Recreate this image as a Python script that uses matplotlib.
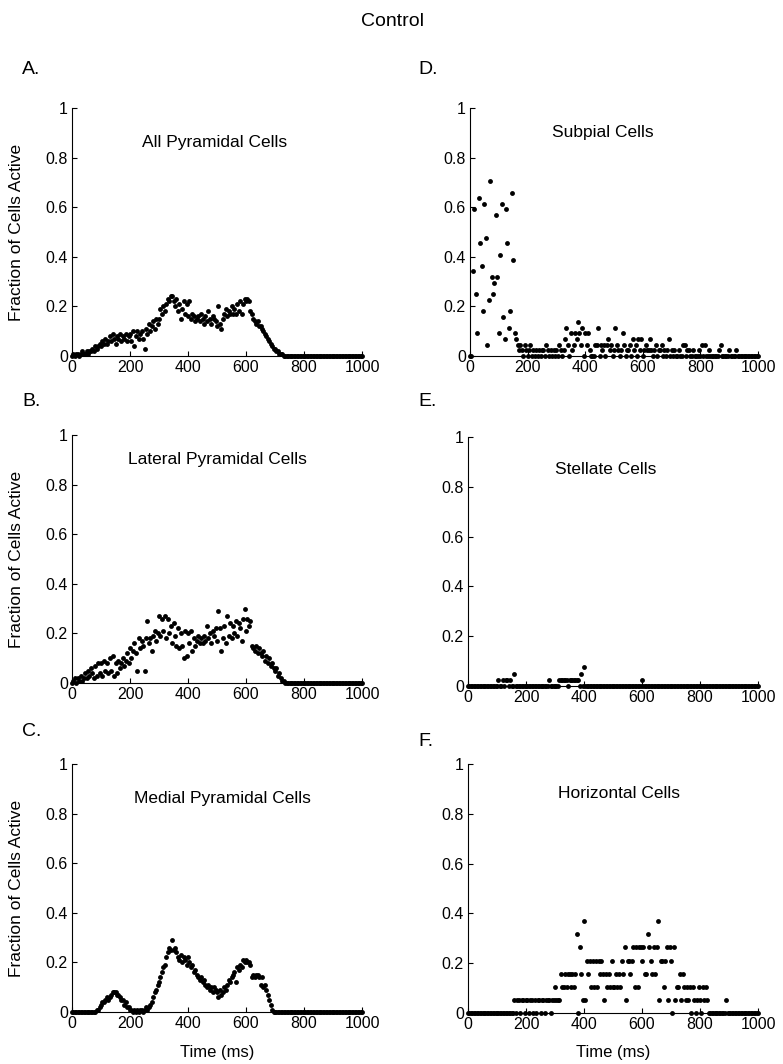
import numpy as np
import matplotlib
matplotlib.use('Agg')
import matplotlib.pyplot as plt

plt.rcParams['font.family'] = ['Liberation Sans', 'DejaVu Sans']

# time axis, one sample every 5 ms
time_ms = np.arange(0, 1001, 5)

# fraction of cells active (t = 0..745 ms, then silent)
all_pyramidal = [
    0.0, 0.01, 0.0, 0.01, 0.01, 0.0, 0.01, 0.02, 0.01, 0.01,
    0.02, 0.01, 0.02, 0.02, 0.03, 0.02, 0.04, 0.03, 0.04, 0.05,
    0.04, 0.06, 0.05, 0.07, 0.05, 0.06, 0.08, 0.06, 0.09, 0.07,
    0.05, 0.08, 0.07, 0.09, 0.06, 0.08, 0.07, 0.09, 0.06, 0.08,
    0.09, 0.06, 0.10, 0.04, 0.08, 0.10, 0.07, 0.09, 0.10, 0.07,
    0.03, 0.11, 0.09, 0.13, 0.10, 0.12, 0.14, 0.11, 0.15, 0.13,
    0.15, 0.19, 0.17, 0.20, 0.18, 0.21, 0.23, 0.22, 0.24, 0.24,
    0.22, 0.20, 0.23, 0.18, 0.21, 0.15, 0.19, 0.22, 0.17, 0.21,
    0.16, 0.22, 0.15, 0.17, 0.16, 0.14, 0.15, 0.16, 0.14, 0.17,
    0.15, 0.13, 0.16, 0.14, 0.18, 0.15, 0.13, 0.16, 0.15, 0.14,
    0.12, 0.20, 0.13, 0.11, 0.15, 0.17, 0.19, 0.16, 0.18, 0.17,
    0.20, 0.17, 0.19, 0.17, 0.21, 0.18, 0.22, 0.17, 0.21, 0.23,
    0.22, 0.23, 0.22, 0.18, 0.17, 0.15, 0.14, 0.13, 0.14, 0.12,
    0.12, 0.11, 0.10, 0.09, 0.08, 0.07, 0.06, 0.05, 0.04, 0.03,
    0.03, 0.02, 0.02, 0.01, 0.01, 0.01, 0.0, 0.0, 0.0, 0.0,
] + [0.0] * 51

lateral_pyramidal = [
    0.0, 0.01, 0.02, 0.0, 0.02, 0.01, 0.03, 0.01, 0.02, 0.04,
    0.02, 0.05, 0.03, 0.06, 0.04, 0.02, 0.07, 0.03, 0.08, 0.04,
    0.08, 0.03, 0.09, 0.05, 0.08, 0.04, 0.10, 0.05, 0.11, 0.03,
    0.08, 0.04, 0.09, 0.06, 0.08, 0.10, 0.07, 0.09, 0.12, 0.08,
    0.14, 0.10, 0.13, 0.16, 0.12, 0.05, 0.18, 0.14, 0.17, 0.15,
    0.05, 0.18, 0.25, 0.16, 0.18, 0.13, 0.19, 0.21, 0.17, 0.20,
    0.27, 0.19, 0.26, 0.21, 0.27, 0.18, 0.26, 0.20, 0.23, 0.16,
    0.24, 0.19, 0.15, 0.22, 0.14, 0.20, 0.15, 0.10, 0.21, 0.11,
    0.20, 0.16, 0.21, 0.13, 0.18, 0.15, 0.17, 0.19, 0.16, 0.18,
    0.16, 0.19, 0.17, 0.23, 0.18, 0.20, 0.16, 0.21, 0.19, 0.22,
    0.17, 0.29, 0.22, 0.13, 0.18, 0.23, 0.16, 0.27, 0.19, 0.24,
    0.18, 0.23, 0.20, 0.25, 0.19, 0.24, 0.22, 0.17, 0.26, 0.30,
    0.21, 0.26, 0.23, 0.25, 0.15, 0.14, 0.13, 0.15, 0.12, 0.14,
    0.12, 0.11, 0.13, 0.09, 0.11, 0.08, 0.10, 0.07, 0.08, 0.06,
    0.05, 0.06, 0.03, 0.04, 0.02, 0.01, 0.01, 0.0, 0.0, 0.0,
] + [0.0] * 51

medial_pyramidal = [
    0.0, 0.0, 0.0, 0.0, 0.0, 0.0, 0.0, 0.0, 0.0, 0.0,
    0.0, 0.0, 0.0, 0.0, 0.0, 0.0, 0.0, 0.01, 0.01, 0.02,
    0.03, 0.04, 0.04, 0.05, 0.06, 0.05, 0.06, 0.07, 0.08, 0.08,
    0.08, 0.07, 0.07, 0.06, 0.05, 0.05, 0.03, 0.04, 0.02, 0.02,
    0.01, 0.01, 0.0, 0.01, 0.0, 0.01, 0.0, 0.01, 0.01, 0.0,
    0.01, 0.02, 0.01, 0.02, 0.03, 0.04, 0.06, 0.08, 0.09, 0.11,
    0.12, 0.14, 0.16, 0.18, 0.19, 0.22, 0.24, 0.26, 0.25, 0.29,
    0.25, 0.26, 0.24, 0.22, 0.21, 0.23, 0.20, 0.22, 0.21, 0.19,
    0.22, 0.20, 0.18, 0.19, 0.16, 0.17, 0.15, 0.14, 0.13, 0.14,
    0.12, 0.13, 0.11, 0.10, 0.11, 0.09, 0.10, 0.08, 0.10, 0.09,
    0.08, 0.06, 0.09, 0.07, 0.08, 0.10, 0.09, 0.11, 0.13, 0.12,
    0.14, 0.15, 0.16, 0.12, 0.18, 0.17, 0.19, 0.18, 0.21, 0.20,
    0.21, 0.20, 0.20, 0.19, 0.14, 0.15, 0.14, 0.15, 0.15, 0.14,
    0.11, 0.14, 0.10, 0.11, 0.09, 0.07, 0.05, 0.03, 0.01, 0.0,
] + [0.0] * 61

# small populations: number of active cells, and population size
subpial_n = 44
subpial_counts = [
    0, 0, 15, 26, 11, 4, 28, 20, 16, 8, 27, 21, 2, 10, 31, 14, 11, 13,
    25, 14, 4, 18, 27, 7, 3, 26, 20, 5, 8, 29, 17, 4, 3, 2, 1,
    2, 1, 0, 2, 1, 0, 1, 2, 0, 1,
    0, 1, 0, 1, 0, 1, 1, 0, 2, 1,
    0, 1, 0, 1, 0, 1, 0, 2, 1, 0,
    1, 3, 5, 2, 0, 4, 1, 2, 4, 3,
    6, 4, 2, 5, 0, 4, 2, 4, 1, 0,
    0, 0, 2, 2, 5, 0, 2, 1, 2, 0,
    2, 3, 1, 2, 0, 1, 5, 2, 1, 0,
    1, 4, 2, 0, 1, 1, 2, 0, 3, 1,
    2, 0, 3, 1, 3, 0, 1, 2, 1, 1,
    3, 1, 0, 1, 2, 0, 1, 1, 2, 0,
    1, 0, 1, 3, 0, 1, 0, 1, 0, 0,
    1, 0, 0, 2, 2, 0, 1, 1, 0, 0,
    1, 0, 0, 0, 1, 0, 2, 0, 2, 0,
    0, 1, 0, 0, 0, 0, 0, 0, 1, 2,
    0, 0, 0, 0, 0, 1, 0, 0, 0, 0,
    1, 0, 0, 0, 0, 0, 0, 0, 0, 0,
    0, 0, 0, 0, 0, 0,
]

stellate_n = 40
stellate_counts = [0] * 21 + [
    1, 0, 0, 1, 0, 1, 1, 0, 1, 0,
    0, 2, 0, 0, 0, 0, 0, 0, 0, 0,
    0, 0, 0, 0, 0, 0, 0, 0, 0, 0,
    0, 0, 0, 0, 0, 1, 0, 0, 0, 0,
    0, 0, 1, 1, 1, 1, 1, 1, 0, 1,
    1, 1, 1, 1, 1, 1, 0, 2, 0, 3,
] + [0] * 39 + [1] + [0] * 80

horizontal_n = 19
horizontal_counts = [0] * 30 + [
    0, 0, 1, 0, 1, 1, 0, 1, 1, 0,
    1, 1, 0, 1, 1, 0, 1, 0, 1, 1,
    0, 1, 1, 0, 1, 1, 1, 0, 1, 1,
    2, 1, 1, 1, 3, 2, 2, 3, 2, 3,
    3, 2, 3, 2, 3, 6, 0, 5, 3, 1,
    7, 1, 4, 3, 4, 2, 4, 2, 4, 2,
    4, 3, 4, 3, 1, 3, 2, 3, 2, 4,
    2, 2, 3, 2, 3, 2, 4, 3, 5, 1,
    4, 4, 3, 4, 5, 2, 5, 2, 5, 5,
    4, 5, 3, 3, 6, 5, 4, 3, 5, 3,
    5, 7, 1, 4, 4, 2, 4, 5, 1, 5,
    4, 0, 5, 1, 2, 2, 3, 1, 3, 2,
    1, 2, 1, 2, 0, 2, 1, 0, 1, 2,
    1, 0, 2, 1, 2, 1, 0, 0, 0, 0,
    0, 0, 0, 0, 0, 0, 0, 0, 1, 0,
] + [0] * 21

subpial = np.array(subpial_counts) / subpial_n
stellate = np.array(stellate_counts) / stellate_n
horizontal = np.array(horizontal_counts) / horizontal_n

for arr in (all_pyramidal, lateral_pyramidal, medial_pyramidal, subpial, stellate, horizontal):
    assert len(arr) == len(time_ms), len(arr)

W, H = 783, 1064
fig = plt.figure(figsize=(W / 100, H / 100), dpi=100)


def add_axes_px(left, top, right, bottom):
    return fig.add_axes([left / W, 1 - bottom / H, (right - left) / W, (bottom - top) / H])


# letter, title, data, axes box in pixels, title position (data coords)
panels = [
    ('A.', 'All Pyramidal Cells', all_pyramidal, (72, 108, 362, 356), (490, 0.86)),
    ('B.', 'Lateral Pyramidal Cells', lateral_pyramidal, (72, 435, 362, 683), (500, 0.90)),
    ('C.', 'Medial Pyramidal Cells', medial_pyramidal, (72, 764, 362, 1012), (520, 0.86)),
    ('D.', 'Subpial Cells', subpial, (470, 108, 758, 356), (460, 0.90)),
    ('E.', 'Stellate Cells', stellate, (468, 437, 758, 686), (475, 0.87)),
    ('F.', 'Horizontal Cells', horizontal, (468, 764, 758, 1013), (520, 0.88)),
]

letter_pos = {'A.': (22, 70), 'B.': (22, 402), 'C.': (22, 732),
              'D.': (418, 70), 'E.': (418, 402), 'F.': (418, 742)}

for i, (letter, title, vals, box, tpos) in enumerate(panels):
    ax = add_axes_px(*box)
    ax.plot(time_ms, vals, 'o', color='k', ms=3.5, mew=0, clip_on=False)
    ax.set_xlim(0, 1000)
    ax.set_ylim(0, 1)
    ax.set_xticks([0, 200, 400, 600, 800, 1000])
    ax.set_yticks([0, 0.2, 0.4, 0.6, 0.8, 1])
    ax.set_yticklabels(['0', '0.2', '0.4', '0.6', '0.8', '1'])
    ax.spines['top'].set_visible(False)
    ax.spines['right'].set_visible(False)
    for s in ('left', 'bottom'):
        ax.spines[s].set_linewidth(0.8)
    ax.tick_params(direction='in', length=3.5, width=0.8, labelsize=11.5, pad=3)
    ax.text(tpos[0], tpos[1], title, ha='center', va='center', fontsize=12.5)

    lx, ly = letter_pos[letter]
    fig.text(lx / W, 1 - ly / H, letter, ha='left', va='center', fontsize=14)

    left, top, right, bottom = box
    if i < 3:
        fig.text(17 / W, 1 - (top + bottom) / 2 / H, 'Fraction of Cells Active',
                 rotation=90, ha='center', va='center', fontsize=12.5)
    if letter in ('C.', 'F.'):
        fig.text((left + right) / 2 / W, 1 - 1052 / H, 'Time (ms)',
                 ha='center', va='center', fontsize=12)

fig.text(392 / W, 1 - 22 / H, 'Control', ha='center', va='center', fontsize=14)

fig.savefig('out.png', dpi=100)
